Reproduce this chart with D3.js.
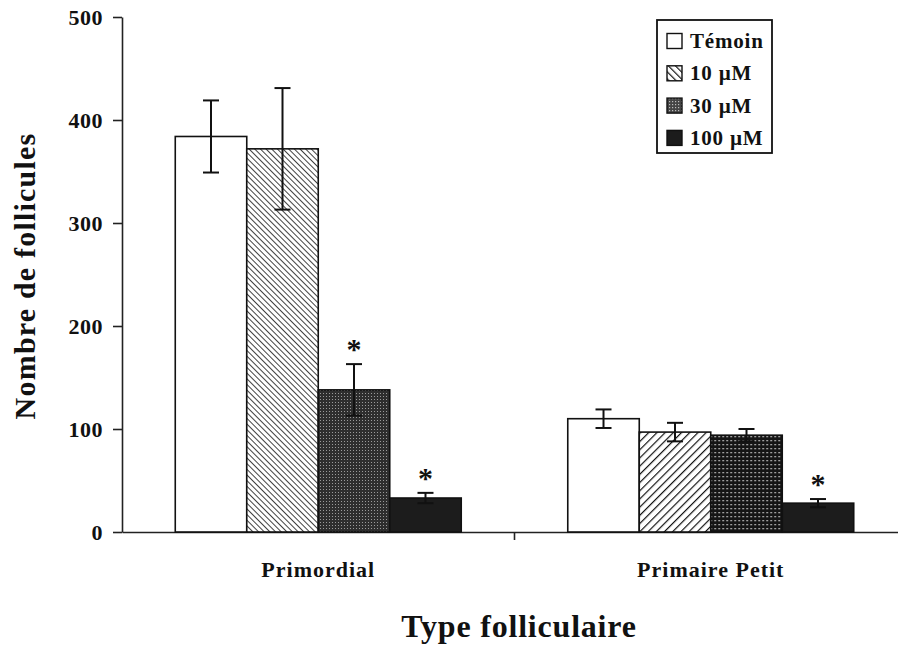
<!DOCTYPE html>
<html><head><meta charset="utf-8">
<script src="https://cdn.jsdelivr.net/npm/d3@7/dist/d3.min.js"></script>
<style>body{margin:0;background:#fff}text{font-family:"Liberation Serif","Times New Roman",serif;font-weight:bold;fill:#111}</style>
</head><body><svg id="c" width="898" height="645"></svg>
<script>
const categories = ["Primordial", "Primaire Petit"];
const series = ["Témoin", "10 µM", "30 µM", "100 µM"];
const values = [[384, 372, 138, 33], [110, 97, 94, 28]];
const errors = [[35, 59, 25, 5], [9, 9, 6, 4]];
const significant = [[false, false, true, true], [false, false, false, true]];
const yTicks = [0, 100, 200, 300, 400, 500];

const svg = d3.select("#c");
const defs = svg.append("defs");
function hatch(id, angle, gap, sw) {
  const p = defs.append("pattern").attr("id", id).attr("patternUnits", "userSpaceOnUse")
    .attr("width", gap).attr("height", gap).attr("patternTransform", `rotate(${angle})`);
  p.append("rect").attr("width", gap).attr("height", gap).attr("fill", "#fff");
  p.append("line").attr("x1", 0).attr("y1", 0).attr("x2", 0).attr("y2", gap).attr("stroke", "#111").attr("stroke-width", sw);
}
function dots(id, bg, dot, size, r) {
  const p = defs.append("pattern").attr("id", id).attr("patternUnits", "userSpaceOnUse")
    .attr("width", size).attr("height", size);
  p.append("rect").attr("width", size).attr("height", size).attr("fill", bg);
  p.append("rect").attr("x", 0).attr("y", 0).attr("width", r).attr("height", r).attr("fill", dot);
}
hatch("h0", -45, 4, 1.6);
hatch("h1", 45, 5.8, 2.4);
hatch("hl", -45, 5, 2.4);
dots("d0", "#2e2e2e", "#9a9a9a", 3, 1);
dots("d1", "#151515", "#e8e8e8", 4, 1.3);
dots("dl", "#444", "#bbb", 3, 1.2);
const fills = [
  ["#fff", "url(#h0)", "url(#d0)", "#1c1c1c"],
  ["#fff", "url(#h1)", "url(#d1)", "#1c1c1c"]
];
const legendFills = ["#fff", "url(#hl)", "url(#dl)", "#1c1c1c"];

const x0 = 122, x1 = 907, yTop = 17, yBot = 532;
const y = d3.scaleLinear().domain([0, 500]).range([yBot, yTop]);
const xg = d3.scaleBand().domain(categories).range([x0, x1]).paddingInner(0).paddingOuter(0);
const xs = d3.scaleBand().domain(series).range([0, xg.bandwidth()]).paddingInner(0).paddingOuter(0.745);

// y axis
const ya = svg.append("g").attr("transform", `translate(${x0},0)`)
  .call(d3.axisLeft(y).tickValues(yTicks).tickSize(9).tickPadding(10).tickSizeOuter(0));
ya.select(".domain").attr("stroke", "#222").attr("stroke-width", 1.6);
ya.selectAll(".tick line").attr("stroke", "#222").attr("stroke-width", 1.6);
ya.selectAll(".tick text").style("font-size", "22px").style("font-family", "Liberation Serif").style("font-weight", "bold")
  .style("letter-spacing", "0.5px").attr("fill", "#111");

// x axis
const xa = svg.append("g").attr("transform", `translate(0,${yBot})`)
  .call(d3.axisBottom(xg).tickSize(0).tickFormat(""));
xa.select(".domain").attr("stroke", "#222").attr("stroke-width", 1.6);
svg.append("line").attr("x1", xg(categories[1])).attr("x2", xg(categories[1])).attr("y1", yBot).attr("y2", yBot + 8).attr("stroke", "#222").attr("stroke-width", 1.6);

categories.forEach((c, gi) => {
  const g = svg.append("g").attr("transform", `translate(${xg(c)},0)`);
  series.forEach((s, si) => {
    const v = values[gi][si], e = errors[gi][si];
    const bx = xs(s), bw = xs.bandwidth(), cx = bx + bw / 2;
    g.append("rect").attr("x", bx).attr("y", y(v)).attr("width", bw).attr("height", y(0) - y(v))
      .attr("fill", fills[gi][si]).attr("stroke", "#111").attr("stroke-width", 1.6);
    const eb = g.append("g").attr("stroke", "#111").attr("stroke-width", 2);
    eb.append("line").attr("x1", cx).attr("x2", cx).attr("y1", y(v + e)).attr("y2", y(v - e));
    eb.append("line").attr("x1", cx - 8).attr("x2", cx + 8).attr("y1", y(v + e)).attr("y2", y(v + e));
    eb.append("line").attr("x1", cx - 8).attr("x2", cx + 8).attr("y1", y(v - e)).attr("y2", y(v - e));
    if (significant[gi][si]) {
      g.append("text").attr("x", cx).attr("y", y(v + e) - 5).attr("text-anchor", "middle")
        .style("font-size", "30px").text("*");
    }
  });
  svg.append("text").attr("x", xg(c) + xg.bandwidth() / 2).attr("y", 577).attr("text-anchor", "middle")
    .style("font-size", "22px").style("letter-spacing", "1px").text(c);
});

svg.append("text").attr("transform", `translate(35,276) rotate(-90)`)
  .attr("text-anchor", "middle").style("font-size", "30px").style("letter-spacing", "1.2px").text("Nombre de follicules");
svg.append("text").attr("x", 519).attr("y", 637).attr("text-anchor", "middle")
  .style("font-size", "32px").style("letter-spacing", "0.8px").text("Type folliculaire");

// legend
const lg = svg.append("g").attr("transform", "translate(657,20)");
lg.append("rect").attr("width", 115).attr("height", 133).attr("fill", "#fff").attr("stroke", "#111").attr("stroke-width", 1.8);
series.forEach((s, i) => {
  const yy = 21 + i * 32.3;
  lg.append("rect").attr("x", 10).attr("y", yy - 7.5).attr("width", 15).attr("height", 15)
    .attr("fill", legendFills[i]).attr("stroke", "#111").attr("stroke-width", 1.4);
  lg.append("text").attr("x", 33).attr("y", yy + 7).style("font-size", "21px").style("letter-spacing", "0.8px").text(s);
});
</script></body></html>
